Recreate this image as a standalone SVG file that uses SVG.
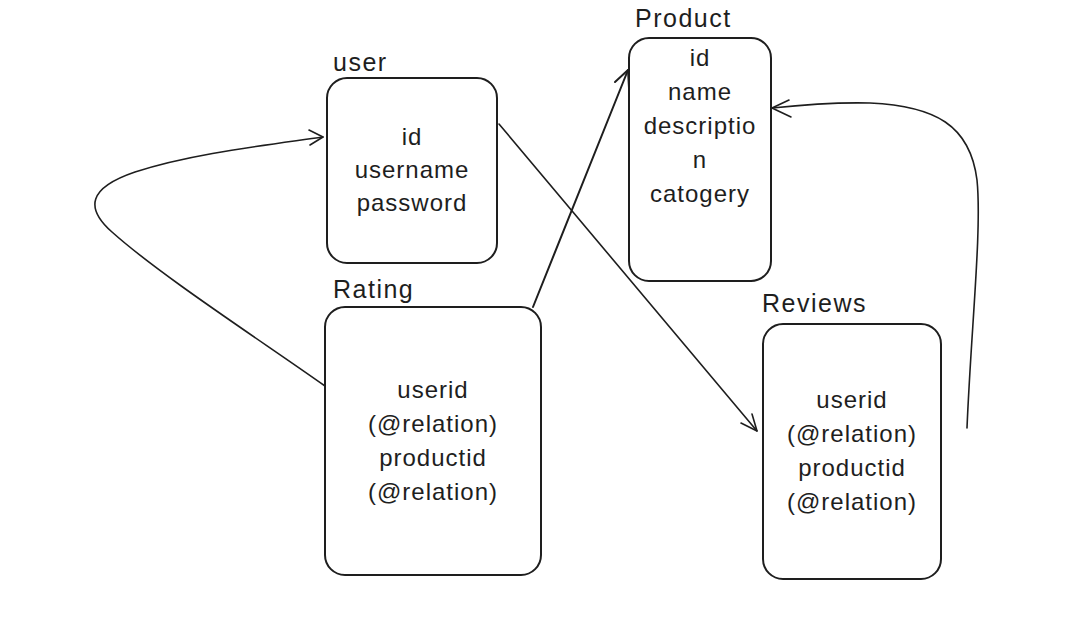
<svg xmlns="http://www.w3.org/2000/svg" width="1079" height="634" viewBox="0 0 1079 634">
<style>
.box{fill:none;stroke:#1e1e1e;stroke-width:2}
.t{font-family:"Liberation Sans",Arial,sans-serif;font-size:24px;fill:#1e1e1e;text-anchor:middle;letter-spacing:1px}
.lbl{font-family:"Liberation Sans",Arial,sans-serif;font-size:25px;fill:#1e1e1e;letter-spacing:1.5px}
.c{fill:none;stroke:#1e1e1e;stroke-width:1.6;stroke-linecap:round;stroke-linejoin:round}
</style>
<rect width="1079" height="634" fill="#ffffff"/>
<g id="user">
<text class="lbl" x="333" y="71">user</text>
<rect class="box" x="327" y="78" width="170" height="185" rx="20"/>
<text class="t" x="412" y="145">id</text>
<text class="t" x="412" y="178">username</text>
<text class="t" x="412" y="211">password</text>
</g>
<g id="product">
<text class="lbl" x="635" y="27">Product</text>
<rect class="box" x="629" y="38" width="142" height="243" rx="20"/>
<text class="t" x="700" y="66">id</text>
<text class="t" x="700" y="100">name</text>
<text class="t" x="700" y="134">descriptio</text>
<text class="t" x="700" y="168">n</text>
<text class="t" x="700" y="202">catogery</text>
</g>
<g id="rating">
<text class="lbl" x="333" y="298">Rating</text>
<rect class="box" x="325" y="307" width="216" height="268" rx="20"/>
<text class="t" x="433" y="398">userid</text>
<text class="t" x="433" y="432">(@relation)</text>
<text class="t" x="433" y="466">productid</text>
<text class="t" x="433" y="500">(@relation)</text>
</g>
<g id="reviews">
<text class="lbl" x="762" y="312">Reviews</text>
<rect class="box" x="763" y="324" width="178" height="255" rx="20"/>
<text class="t" x="852" y="408">userid</text>
<text class="t" x="852" y="442">(@relation)</text>
<text class="t" x="852" y="476">productid</text>
<text class="t" x="852" y="510">(@relation)</text>
</g>
<g id="connectors">
<path class="c" d="M325 386 C260 340 160 275 112 232 C85 208 88 188 135 172 C190 154 260 146 323 137"/>
<path class="c" d="M309 130 L323 137 L310 145"/>
<path class="c" d="M499 124 L757 431"/>
<path class="c" d="M741 423 L757 431 L752 414"/>
<path class="c" style="stroke-width:2" d="M533 307 L628 70"/>
<path class="c" style="stroke-width:2" d="M615 82 L628 70 L629 88"/>
<path class="c" d="M967 428 C971 330 982 230 977 180 C970 125 935 106 870 103 C830 102 800 105 772 108"/>
<path class="c" d="M789 100 L772 108 L791 117"/>
</g>
</svg>
